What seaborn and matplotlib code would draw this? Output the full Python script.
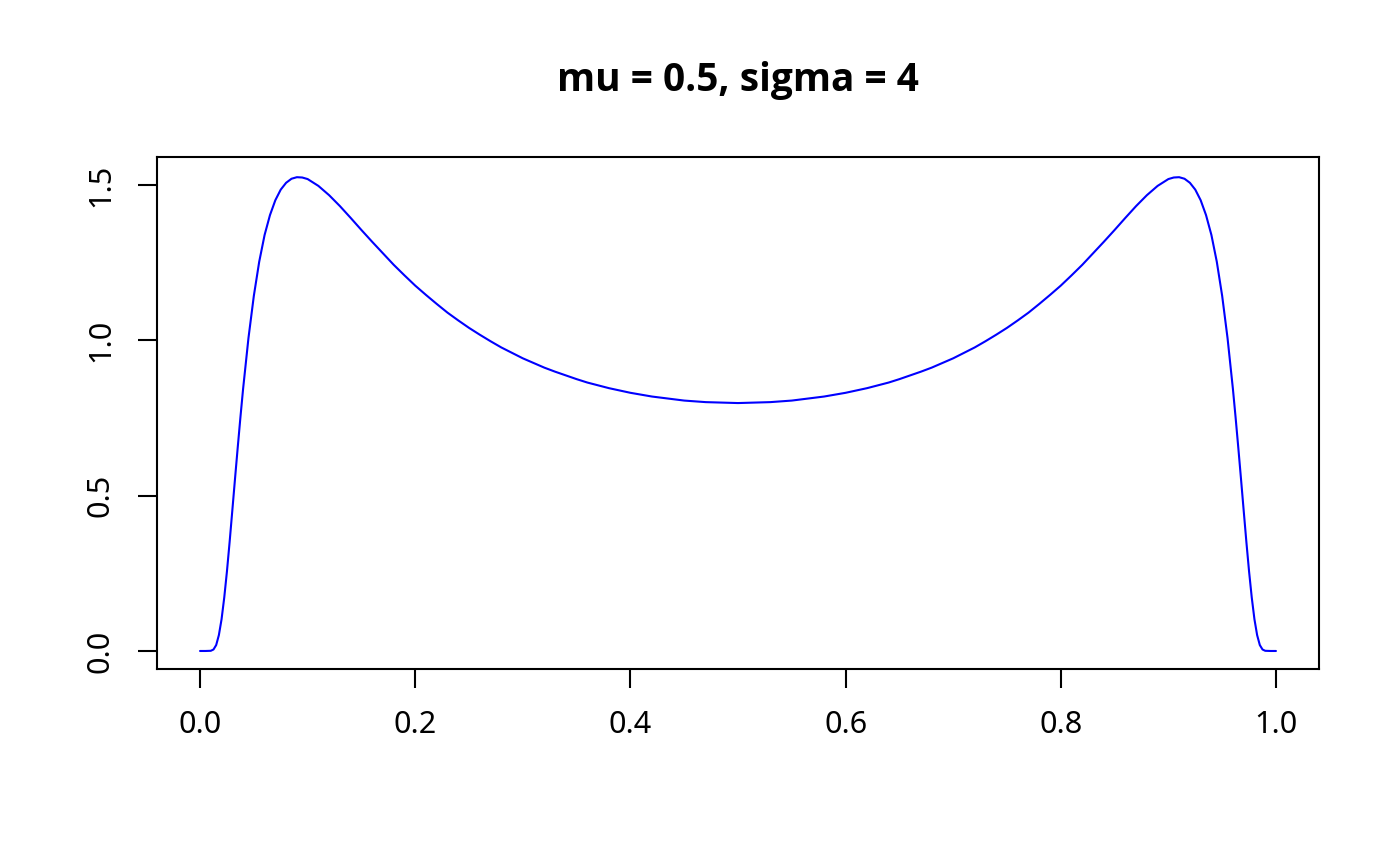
import seaborn as sns
import matplotlib.pyplot as plt
import pandas as pd

# density curve points (left half, mirrored for the right)
x_left = [0.0, 0.005, 0.01, 0.0125, 0.015, 0.0175, 0.02, 0.0225, 0.025, 0.0275,
          0.03, 0.0325, 0.035, 0.0375, 0.04, 0.045, 0.05, 0.055, 0.06, 0.065,
          0.07, 0.075, 0.08, 0.085, 0.09, 0.095, 0.10, 0.11, 0.12, 0.13,
          0.14, 0.15, 0.16, 0.17, 0.18, 0.19, 0.20, 0.21, 0.22, 0.23,
          0.24, 0.25, 0.26, 0.27, 0.28, 0.30, 0.32, 0.33, 0.35, 0.36,
          0.38, 0.40, 0.42, 0.45, 0.47, 0.50]
y_left = [0.0, 0.0, 0.0006, 0.0048, 0.019, 0.051, 0.102, 0.172, 0.256, 0.351,
          0.452, 0.554, 0.654, 0.751, 0.843, 1.007, 1.143, 1.253, 1.339, 1.403,
          1.451, 1.485, 1.507, 1.520, 1.525, 1.524, 1.519, 1.497, 1.467, 1.432,
          1.394, 1.355, 1.317, 1.280, 1.243, 1.209, 1.176, 1.146, 1.117, 1.089,
          1.064, 1.040, 1.018, 0.997, 0.977, 0.942, 0.912, 0.899, 0.875, 0.864,
          0.846, 0.831, 0.819, 0.806, 0.801, 0.798]

x_vals = x_left + [round(1 - v, 4) for v in reversed(x_left[:-1])]
y_vals = y_left + list(reversed(y_left[:-1]))
df = pd.DataFrame({'x': x_vals, 'y': y_vals})

title = 'mu = 0.5, sigma = 4'
x_ticks = [0.0, 0.2, 0.4, 0.6, 0.8, 1.0]
y_ticks = [0.0, 0.5, 1.0, 1.5]

sns.set_style('white')
plt.rcParams['font.family'] = ['Noto Sans', 'DejaVu Sans']
plt.rcParams['text.color'] = 'black'
plt.rcParams['xtick.color'] = 'black'
plt.rcParams['ytick.color'] = 'black'

fig = plt.figure(figsize=(7, 4.33), dpi=200)
ax = fig.add_axes([157 / 1400, 1 - 669 / 866, 1162 / 1400, 512 / 866])
sns.lineplot(data=df, x='x', y='y', color='blue', linewidth=0.75, ax=ax)

ax.set_xlim(-0.04, 1.04)
ax.set_ylim(-0.058, 1.59)
ax.set_xticks(x_ticks)
ax.set_xticklabels([f'{t:.1f}' for t in x_ticks])
ax.set_yticks(y_ticks)
ax.set_yticklabels([f'{t:.1f}' for t in y_ticks], rotation=90, va='center')
ax.set_xlabel('')
ax.set_ylabel('')
ax.tick_params(axis='both', direction='out', length=6.8, width=0.75,
               colors='black', labelsize=11, pad=8, bottom=True, left=True)
for s in ax.spines.values():
    s.set_color('black')
    s.set_linewidth(0.75)

fig.text(738 / 1400, 1 - 80 / 866, title, ha='center', va='center', color='black',
         fontsize=14, fontweight='bold', family=['Open Sans', 'Noto Sans'])

plt.savefig('out.png', dpi=200)
